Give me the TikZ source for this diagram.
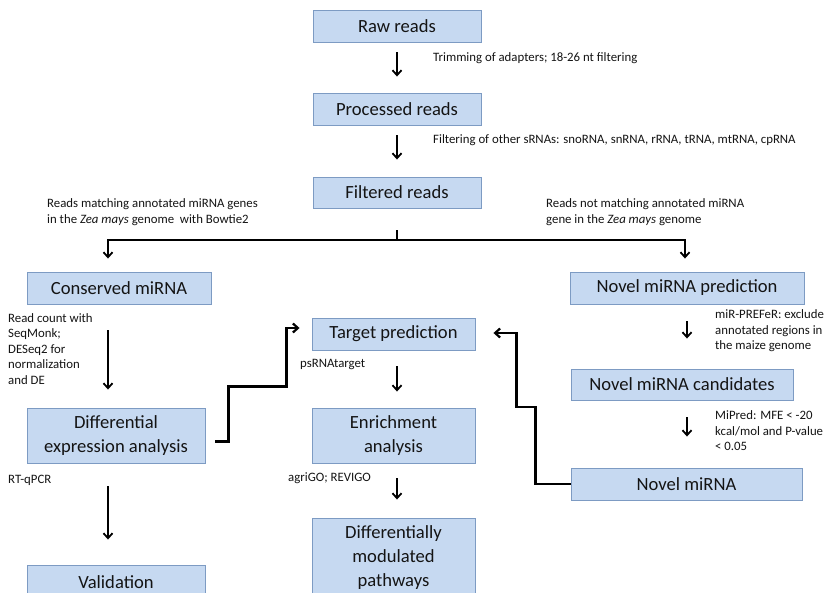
\documentclass[tikz,border=0pt]{standalone}
\usepackage{fontspec}
\setmainfont{Carlito}
\usetikzlibrary{arrows.meta}
\definecolor{boxfill}{RGB}{198,217,241}
\definecolor{boxline}{RGB}{125,155,195}
\definecolor{txt}{RGB}{20,20,20}
\begin{document}
\begin{tikzpicture}[x=1pt,y=-1pt,
  box/.style={draw=boxline, fill=boxfill, line width=0.9pt, inner sep=0pt, align=center, font=\fontsize{18.6}{24}\selectfont, text=txt},
  lbl/.style={font=\fontsize{12.8}{15.5}\selectfont, text=txt, align=left, inner sep=0pt, anchor=west},
  arr/.style={-{Straight Barb[length=5pt,width=9pt]}, line width=1.8pt, black},
  conn/.style={line width=1.8pt, black},
  elbow/.style={-{Straight Barb[length=5pt,width=9pt]}, line width=2.2pt, black, line join=miter},
]
\clip (0,0) rectangle (828,593);
\fill[white] (0,0) rectangle (828,593);

% boxes
\node[box, minimum width=168pt, minimum height=32pt] (raw) at (397,26) {Raw reads};
\node[box, minimum width=168pt, minimum height=32pt] (proc) at (397,109) {Processed reads};
\node[box, minimum width=168pt, minimum height=31pt] (filt) at (397,192.5) {Filtered reads};
\node[box, minimum width=184pt, minimum height=32pt] (cons) at (119,288) {Conserved miRNA};
\node[box, minimum width=234pt, minimum height=32pt] (npred) at (687,288) {Novel miRNA prediction};
\node[box, minimum width=178pt, minimum height=55pt] (diffex) at (116,435.5) {Differential\\expression analysis};
\node[box, minimum width=178pt, minimum height=34pt] (val) at (116,582) {Validation};
\node[box, minimum width=163pt, minimum height=32pt] (target) at (393.5,334) {Target prediction};
\node[box, minimum width=163pt, minimum height=55pt] (enrich) at (393.5,435.5) {Enrichment\\analysis};
\node[box, minimum width=163pt, minimum height=80pt] (path) at (393.5,558) {Differentially\\modulated\\pathways};
\node[box, minimum width=222pt, minimum height=31pt] (cand) at (682,384.5) {Novel miRNA candidates};
\node[box, minimum width=231pt, minimum height=32pt] (novel) at (686.5,484) {Novel miRNA};

% labels
\node[lbl] (l1) at (433,58) {Trimming of adapters; 18-26 nt filtering};
\node[lbl] (l2) at (433,140) {Filtering of other sRNAs: snoRNA, snRNA, rRNA, tRNA, mtRNA, cpRNA};
\node[lbl] (l3) at (47,212) {Reads matching annotated miRNA genes\\in the \textit{Zea mays} genome\ \ with Bowtie2};
\node[lbl] (l4) at (546,212) {Reads not matching annotated miRNA\\gene in the \textit{Zea mays} genome};
\node[lbl] (l5) at (8,349) {Read count with\\SeqMonk;\\DESeq2 for\\normalization\\and DE};
\node[lbl] (l6) at (8,480) {RT-qPCR};
\node[lbl] (l7) at (300,364) {psRNAtarget};
\node[lbl] (l8) at (288,478) {agriGO; REVIGO};
\node[lbl] (l9) at (715,331) {miR-PREFeR: exclude\\annotated regions in\\the maize genome};
\node[lbl] (l10) at (715,431) {MiPred: MFE < -20\\kcal/mol and P-value\\< 0.05};

% arrows
\draw[arr] ([yshift=-10pt]raw.south) -- ([yshift=16pt]proc.north);
\draw[arr] ([yshift=-10pt]proc.south) -- ([yshift=17pt]filt.north);
\coordinate (br) at (397,240);
\draw[conn] ([yshift=-22pt]filt.south) -- (br);
\draw[arr] (br) -| ([xshift=-11pt,yshift=13pt]cons.north);
\draw[arr] (br) -| ([xshift=-2pt,yshift=13pt]npred.north);
\draw[arr] ([xshift=-11pt,yshift=-26pt]cons.south) -- ([xshift=-8pt,yshift=18pt]diffex.north);
\draw[arr] ([xshift=-8pt,yshift=-23pt]diffex.south) -- ([xshift=-8pt,yshift=25pt]val.north);
\draw[arr] ([xshift=3.5pt,yshift=-16pt]target.south) -- ([xshift=3.5pt,yshift=16pt]enrich.north);
\draw[arr] ([xshift=3.5pt,yshift=-15pt]enrich.south) -- ([xshift=3.5pt,yshift=18pt]path.north);
\draw[arr] ([yshift=-17pt]npred.south) -- ([xshift=5pt,yshift=30pt]cand.north);
\draw[arr] ([xshift=5pt,yshift=-17pt]cand.south) -- ([xshift=0.5pt,yshift=31pt]novel.north);
\draw[elbow] ([xshift=10pt,yshift=-6pt]diffex.east) -- ++(13,0) -- ++(0,-55) -- ++(58,0) |- ([xshift=-12pt,yshift=6pt]target.west);
\draw[elbow] (novel.west) -- ++(-35,0) -- ++(0,-77) -- ++(-19,0) |- ([xshift=18pt,yshift=1pt]target.east);
\end{tikzpicture}
\end{document}
